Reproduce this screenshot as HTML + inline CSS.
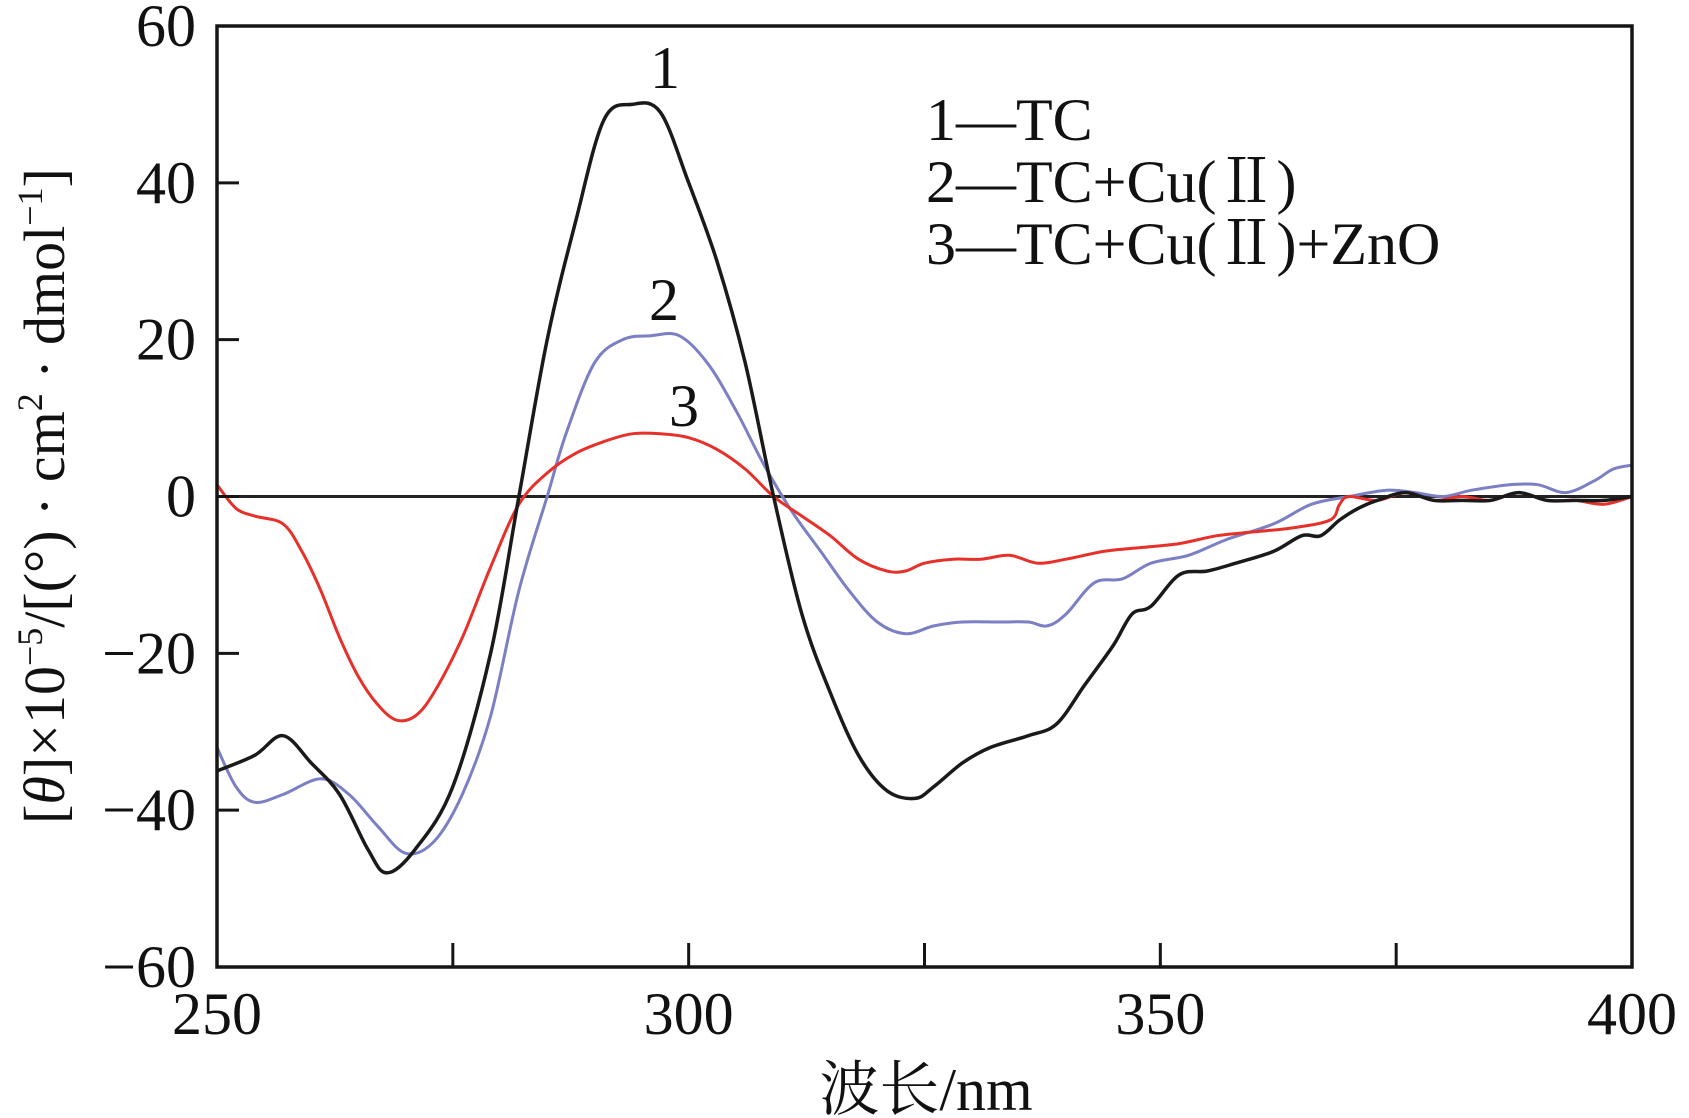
<!DOCTYPE html>
<html><head><meta charset="utf-8"><style>
html,body{margin:0;padding:0;background:#fff;}
svg{display:block;}
text{font-family:"Liberation Serif","Noto Serif CJK SC",serif;fill:#111;}
</style></head><body>
<svg id="chart" width="1689" height="1118" viewBox="0 0 1689 1118">
<g id="marks"></g>
</svg>
<script>
const xTicks=[250,300,350,400];
const xMinor=[275,325,375];
const yTicks=[60,40,20,0,-20,-40,-60];
const wl1=[250,254,257,260,263,266,268,271,275,279,282,285,288,291,294,297,300,303,306,309,312,315,318,321,324,326,329,332,336,339,342,345,347,349,352,355,358,362,365,367,369,371,373,376,379,382,385,388,391,394,397,400];
const v1=[-35,-33,-30.5,-34,-38,-45,-48,-45,-37,-20,0,20,35,48,50,49,40,30,17,0,-15,-25,-33,-37.5,-38.5,-37,-34,-32,-30.5,-29,-24,-19,-15,-14,-10,-9.5,-8.5,-7,-5,-5,-3,-1.5,-0.5,0.5,-0.5,-0.5,-0.5,0.5,-0.5,-0.5,-0.5,0];
const wl2=[250,252,254,257,261,264,267,270,273,276,279,282,285,287,290,293,296,299,302,305,308,311,314,317,320,323,326,329,333,336,338,340,343,346,349,353,357,362,366,370,374,377,380,383,387,390,393,396,398,400];
const v2=[-32,-37,-39,-38,-36,-38,-42,-45.5,-44,-38,-28,-12,0,8,17,20,20.5,20.5,17,11,4,-2,-7,-12,-16,-17.5,-16.5,-16,-16,-16,-16.5,-15,-11,-10.5,-8.5,-7.5,-5.5,-3.5,-1,0,0.8,0.5,0,0.8,1.5,1.5,0.5,2,3.5,4];
const wl3=[250,252,254,257,259,261,263,265,267,269,271,273,276,279,282,285,288,291,294,297,300,303,306,309,312,315,318,321,323,325,328,331,334,337,340,344,348,352,356,360,364,368,369,370,373,376,379,382,385,388,391,394,397,400];
const v3=[1.5,-1.5,-2.5,-3.5,-7,-12,-18,-23,-26.5,-28.5,-28,-25,-18,-9,-1,3,5.5,7,8,8,7.5,6,3.5,0,-2.5,-5,-8,-9.5,-9.5,-8.5,-8,-8,-7.5,-8.5,-8,-7,-6.5,-6,-5,-4.5,-4,-3,-1,0,-0.5,0.5,-0.5,0,-0.5,0.5,-0.5,-0.5,-1,0];
const legendLabels=["1—TC","2—TC+Cu(Ⅱ)","3—TC+Cu(Ⅱ)+ZnO"];

const L=217,R=1632,T=26,B=967;
const X=v=>L+(v-250)/150*(R-L);
const Y=v=>T+(60-v)/120*(B-T);
const NS="http://www.w3.org/2000/svg";
const g=document.getElementById('marks');
function mk(tag,at,parent){const e=document.createElementNS(NS,tag);for(const k in at)e.setAttribute(k,at[k]);(parent||g).appendChild(e);return e;}

let z=mk('line',{x1:L,x2:R,y1:Y(0),y2:Y(0),stroke:'#222','stroke-width':3});



function series(wl,v,color,name,w){
  const P=wl.map((x,i)=>[X(x),Y(v[i])]);
  let d='M'+P[0][0].toFixed(1)+' '+P[0][1].toFixed(1);
  for(let i=0;i<P.length-1;i++){
    const p0=P[Math.max(i-1,0)],p1=P[i],p2=P[i+1],p3=P[Math.min(i+2,P.length-1)];
    const c1=[p1[0]+(p2[0]-p0[0])/6,p1[1]+(p2[1]-p0[1])/6];
    const c2=[p2[0]-(p3[0]-p1[0])/6,p2[1]-(p3[1]-p1[1])/6];
    d+=' C'+c1[0].toFixed(1)+' '+c1[1].toFixed(1)+' '+c2[0].toFixed(1)+' '+c2[1].toFixed(1)+' '+p2[0].toFixed(1)+' '+p2[1].toFixed(1);
  }
  const p=mk('path',{d:d,fill:'none',stroke:color,'stroke-width':w,'stroke-linejoin':'round'});
  
  
}
series(wl2,v2,'#7b7fc4','series-2-tc-cu',3);
series(wl3,v3,'#e8302a','series-3-tc-cu-zno',3);
series(wl1,v1,'#1a1a1a','series-1-tc',3.5);

let f=mk('rect',{x:L,y:T,width:R-L,height:B-T,fill:'none',stroke:'#151515','stroke-width':3.5});



xTicks.concat(xMinor).forEach(t=>{
  const l=mk('line',{x1:X(t),x2:X(t),y1:B,y2:B-24,stroke:'#151515','stroke-width':3});
  
  
});
xTicks.forEach(t=>{
  const tx=mk('text',{x:X(t),y:1034,'font-size':60,'text-anchor':'middle'});
  tx.textContent=t;
  
  
});
yTicks.forEach(t=>{
  const l=mk('line',{x1:L,x2:L+22,y1:Y(t),y2:Y(t),stroke:'#151515','stroke-width':3});
  
  
  const tx=mk('text',{x:196,y:Y(t)+20,'font-size':60,'text-anchor':'end'});
  tx.textContent=t<0?'−'+(-t):t;
  
  
});
legendLabels.forEach((s,i)=>{
  const tx=mk('text',{x:926,y:140+i*62,'font-size':60});
  tx.textContent=s;
  
  
});
[['1',665,88],['2',664,320],['3',684,426]].forEach(a=>{
  const tx=mk('text',{x:a[1],y:a[2],'font-size':60,'text-anchor':'middle'});
  tx.textContent=a[0];
  
  
});
let xt=mk('text',{x:926,y:1110,'font-size':60,'text-anchor':'middle'});
xt.textContent='波长/nm';


let yt=mk('text',{x:0,y:0,'font-size':58,'text-anchor':'middle',transform:'translate(64,496) rotate(-90)'});
yt.innerHTML='[<tspan font-style="italic">θ</tspan>]×10<tspan font-size="36" dy="-22">−5</tspan><tspan dy="22">/[(°) · cm</tspan><tspan font-size="36" dy="-22">2</tspan><tspan dy="22"> · dmol</tspan><tspan font-size="36" dy="-22">−1</tspan><tspan dy="22">]</tspan>';


</script>
</body></html>
